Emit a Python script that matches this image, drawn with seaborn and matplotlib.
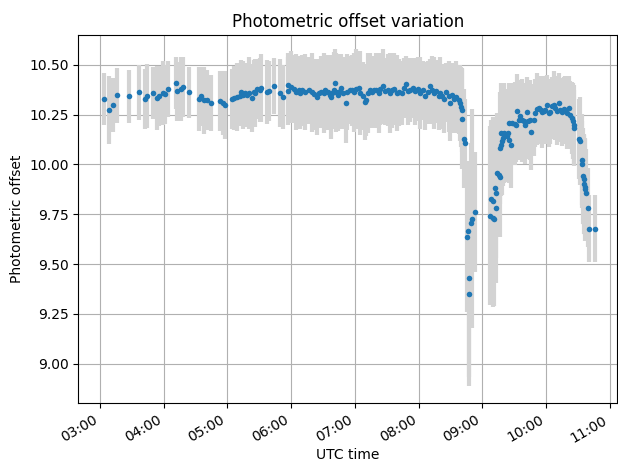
import numpy as np
import pandas as pd
import matplotlib
matplotlib.use("Agg")
import matplotlib.pyplot as plt
import matplotlib.dates as mdates
import seaborn as sns

# minutes after 03:00 UTC
minutes = [
    # 03:00 - 05:00
    3.4, 8.1, 11.9, 16.3, 27.6, 37.0, 42.7, 44.5, 50.2, 53.8, 55.2, 59.2, 61.2, 64.3,
    71.8, 72.6, 76.5, 78.5, 84.0, 92.9, 95.2, 98.2, 100.7, 104.8, 113.5, 115.7, 117.6,
    # 05:00 - 06:10
    124.3, 126.5, 129.0, 131.5, 133.1, 134.7, 136.9, 138.5, 140.3, 143.2, 144.7, 146.3,
    148.0, 150.3, 151.6, 157.3, 158.8, 163.5, 169.2, 172.0, 176.7, 177.4, 180.2, 183.0,
    185.0, 187.0, 188.7,
    # 06:10 - 07:42
    190.3, 193.4, 196.5, 199.7, 201.9, 204.4, 205.9, 208.2, 210.6, 212.2, 214.4, 216.3,
    217.6, 218.8, 220.0, 221.0, 222.6, 223.8, 225.7, 227.3, 228.9, 231.4, 232.7, 235.1,
    237.4, 238.9, 241.4, 243.6, 245.2, 247.7, 249.3, 250.9, 252.1, 254.0, 256.2, 257.7,
    260.3, 262.4, 264.0, 266.6, 268.8, 270.9, 272.8, 275.1, 277.2, 279.8, 281.9,
    # 07:42 - 08:45
    284.5, 286.7, 288.5, 289.8, 292.3, 294.8, 297.0, 299.2, 301.7, 304.3, 306.4, 308.6,
    311.1, 312.7, 314.2, 316.8, 318.9, 320.6, 322.2, 323.7, 326.2, 328.4, 330.0, 331.6,
    333.1, 335.6, 337.8, 339.4, 340.1, 340.6, 341.3, 342.5, 343.5,
    # dip
    345.7, 346.6, 347.2, 347.9, 349.4, 350.4, 353.2,
    # 09:07 - 09:32
    367.7, 368.6, 369.9, 370.4, 371.4, 372.4, 373.0, 373.3, 374.0, 375.5, 376.4, 376.8,
    377.7, 377.9, 379.0, 379.6, 380.2, 381.8, 383.4, 383.9, 384.9, 385.5, 386.7, 388.3,
    390.5, 391.4,
    # 09:32 - 10:46
    392.2, 394.3, 395.9, 397.5, 399.0, 400.6, 402.2, 403.2, 405.3, 406.3, 408.4, 410.0,
    411.6, 413.2, 414.8, 416.4, 417.9, 419.5, 421.1, 422.6, 424.2, 425.8, 427.3, 428.9,
    430.5, 432.0, 433.6, 435.2, 436.7, 438.3, 439.9, 441.4, 443.0, 444.6, 445.6, 446.1,
    446.8, 450.8, 451.8, 453.4, 454.1, 454.6, 455.6, 455.9, 456.5, 457.1, 457.8, 459.7,
    460.9, 465.9,
]

offset = [
    10.33, 10.275, 10.30, 10.347, 10.342, 10.362, 10.33, 10.345, 10.358, 10.333, 10.345,
    10.358, 10.352, 10.378, 10.41, 10.367, 10.38, 10.388, 10.362, 10.33, 10.342, 10.322,
    10.325, 10.31, 10.32, 10.308, 10.30,
    10.33, 10.335, 10.34, 10.345, 10.365, 10.35, 10.36, 10.35, 10.36, 10.335, 10.365, 10.36,
    10.378, 10.375, 10.385, 10.365, 10.37, 10.395, 10.36, 10.34, 10.37, 10.40, 10.39, 10.38,
    10.365, 10.375, 10.36,
    10.372, 10.365, 10.372, 10.362, 10.352, 10.338, 10.358, 10.363, 10.358, 10.372, 10.362,
    10.35, 10.338, 10.358, 10.375, 10.41, 10.362, 10.348, 10.367, 10.383, 10.358, 10.31,
    10.365, 10.375, 10.372, 10.362, 10.378, 10.385, 10.358, 10.345, 10.315, 10.322, 10.358,
    10.372, 10.362, 10.375, 10.372, 10.358, 10.378, 10.392, 10.367, 10.375, 10.358, 10.372,
    10.378, 10.358, 10.362,
    10.358, 10.383, 10.405, 10.367, 10.375, 10.383, 10.367, 10.378, 10.358, 10.372, 10.345,
    10.362, 10.392, 10.375, 10.358, 10.367, 10.342, 10.358, 10.345, 10.328, 10.362, 10.342,
    10.308, 10.35, 10.328, 10.338, 10.325, 10.308, 10.29, 10.275, 10.228, 10.13, 10.108,
    9.637, 9.667, 9.347, 9.43, 9.708, 9.728, 9.762,
    9.742, 9.825, 9.817, 9.733, 9.728, 9.883, 9.783, 9.858, 9.958, 9.945, 9.938, 10.083,
    10.10, 10.158, 10.117, 10.133, 10.158, 10.15, 10.142, 10.158, 10.208, 10.125, 10.10,
    10.208, 10.205, 10.20,
    10.267, 10.222, 10.245, 10.222, 10.217, 10.20, 10.262, 10.217, 10.222, 10.162, 10.222,
    10.258, 10.278, 10.283, 10.275, 10.262, 10.267, 10.275, 10.30, 10.258, 10.262, 10.292,
    10.30, 10.283, 10.267, 10.308, 10.275, 10.262, 10.278, 10.275, 10.258, 10.283, 10.25,
    10.233, 10.217, 10.20, 10.183, 10.128, 10.117, 10.025, 10.00, 9.942, 9.925, 9.90,
    9.888, 9.875, 9.858, 9.783, 9.678, 9.678,
]

offset_err = [
    0.13, 0.17, 0.135, 0.14, 0.135, 0.14, 0.15, 0.16, 0.13, 0.16, 0.15, 0.16, 0.15, 0.14,
    0.13, 0.15, 0.16, 0.15, 0.13, 0.16, 0.15, 0.17, 0.15, 0.14, 0.15, 0.16, 0.17,
    0.15, 0.16, 0.17, 0.15, 0.16, 0.17, 0.15, 0.16, 0.18, 0.17, 0.16, 0.17, 0.15, 0.16,
    0.17, 0.16, 0.15, 0.14, 0.17, 0.16, 0.17, 0.16, 0.18, 0.17, 0.19, 0.17, 0.18,
    0.18, 0.19, 0.17, 0.20, 0.18, 0.19, 0.17, 0.18, 0.20, 0.18, 0.19, 0.17, 0.21, 0.18,
    0.19, 0.17, 0.20, 0.18, 0.19, 0.17, 0.18, 0.20, 0.19, 0.17, 0.18, 0.20, 0.20, 0.18,
    0.21, 0.17, 0.19, 0.18, 0.20, 0.19, 0.18, 0.17, 0.19, 0.20, 0.18, 0.19, 0.17, 0.18,
    0.20, 0.19, 0.18, 0.19, 0.17,
    0.16, 0.15, 0.14, 0.17, 0.16, 0.15, 0.17, 0.16, 0.18, 0.15, 0.17, 0.16, 0.14, 0.17,
    0.18, 0.16, 0.17, 0.18, 0.16, 0.17, 0.15, 0.18, 0.19, 0.16, 0.17, 0.18, 0.17, 0.19,
    0.20, 0.21, 0.25, 0.25, 0.22,
    0.38, 0.35, 0.46, 0.50, 0.40, 0.55, 0.30,
    0.45, 0.40, 0.42, 0.45, 0.44, 0.35, 0.38, 0.33, 0.30, 0.28, 0.30, 0.28, 0.26, 0.25,
    0.27, 0.24, 0.25, 0.22, 0.23, 0.22, 0.20, 0.22, 0.22, 0.20, 0.21, 0.19,
    0.19, 0.20, 0.18, 0.21, 0.19, 0.20, 0.18, 0.19, 0.20, 0.19, 0.18, 0.17, 0.18, 0.16,
    0.17, 0.18, 0.16, 0.17, 0.15, 0.17, 0.16, 0.15, 0.17, 0.16, 0.17, 0.15, 0.16, 0.17,
    0.16, 0.17, 0.18, 0.16, 0.17, 0.18, 0.19, 0.20, 0.19, 0.20, 0.22, 0.23, 0.22, 0.24,
    0.23, 0.25, 0.24, 0.26, 0.22, 0.20, 0.17, 0.17,
]

start = pd.Timestamp("2021-01-01 03:00")
df = pd.DataFrame({
    "time": start + pd.to_timedelta(minutes, unit="min"),
    "offset": offset,
    "err": offset_err,
})

fig, ax = plt.subplots(figsize=(6.18, 4.62), dpi=100)
fig.subplots_adjust(left=0.127, right=0.998, bottom=0.127, top=0.924)

# error bars first, points on top
ax.errorbar(df["time"].to_numpy(), df["offset"], yerr=df["err"], fmt="none",
            ecolor="lightgray", elinewidth=3, zorder=2)
sns.scatterplot(data=df, x="time", y="offset", ax=ax, color="tab:blue",
                s=16, linewidth=0, zorder=3)

ax.grid(True)
ax.set_xlim(start - pd.Timedelta(minutes=20.2), start + pd.Timedelta(minutes=486.6))
ax.set_ylim(8.80, 10.65)
ax.set_yticks(np.arange(9.0, 10.51, 0.25))
ax.yaxis.set_major_formatter(plt.FormatStrFormatter("%.2f"))
ax.xaxis.set_major_locator(mdates.HourLocator())
ax.xaxis.set_major_formatter(mdates.DateFormatter("%H:%M"))
for lbl in ax.get_xticklabels():
    lbl.set_rotation(30)
    lbl.set_ha("right")

ax.set_xlabel("UTC time", labelpad=2)
ax.set_ylabel("Photometric offset")
ax.set_title("Photometric offset variation")

fig.savefig("out.png", dpi=100)
